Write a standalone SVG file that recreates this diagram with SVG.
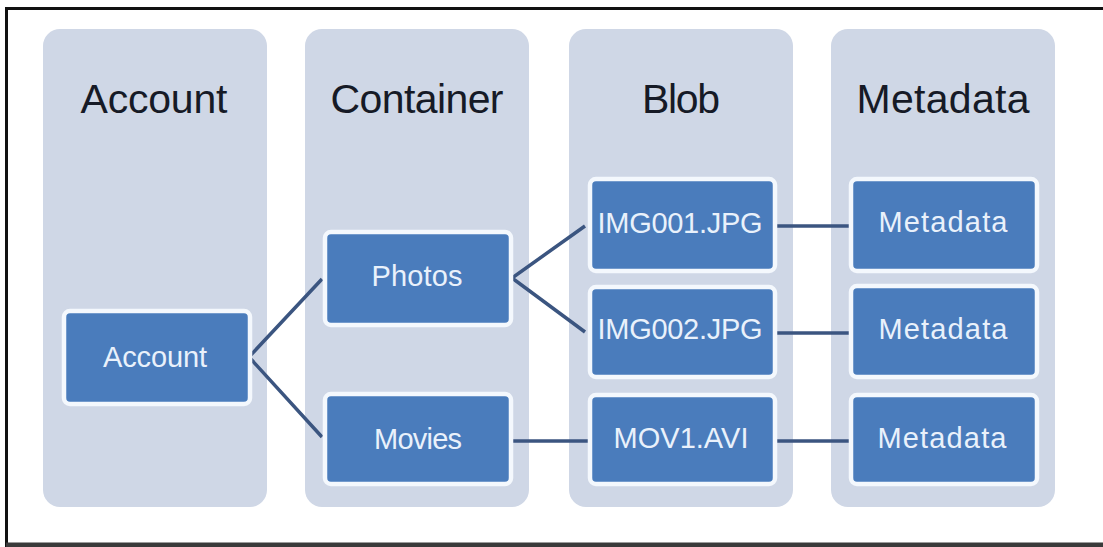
<svg xmlns="http://www.w3.org/2000/svg" width="1103" height="547" viewBox="0 0 1103 547">
  <style>
    .lane { fill: #cfd7e6; }
    .lane-title { font-family: "Liberation Sans", Arial, sans-serif; font-size: 41px; fill: #161a26; text-anchor: middle; }
    .node rect { fill: #4a7cbc; stroke: #f4f8fd; stroke-width: 4.5; }
    .node text { font-family: "Liberation Sans", Arial, sans-serif; font-size: 29px; fill: #e9f1fb; text-anchor: middle; }
    .edges path { fill: none; stroke: #3b5580; stroke-width: 3.5; stroke-linejoin: miter; }
  </style>

  <!-- page background and frame -->
  <rect x="0" y="0" width="1103" height="547" fill="#ffffff"/>
  <path d="M6.5 547 V8.5 H1103" fill="none" stroke="#111111" stroke-width="3"/>
  <rect x="6" y="542.5" width="1097" height="4.5" fill="#3a3a3a"/>

  <!-- swim lanes -->
  <g id="lane-account">
    <rect class="lane" x="43" y="29" width="224" height="478" rx="17"/>
    <text class="lane-title" x="154" y="113" textLength="147">Account</text>
  </g>
  <g id="lane-container">
    <rect class="lane" x="305" y="29" width="224" height="478" rx="17"/>
    <text class="lane-title" x="417" y="113" textLength="173">Container</text>
  </g>
  <g id="lane-blob">
    <rect class="lane" x="569" y="29" width="224" height="478" rx="17"/>
    <text class="lane-title" x="681" y="113" textLength="78">Blob</text>
  </g>
  <g id="lane-metadata">
    <rect class="lane" x="831" y="29" width="224" height="478" rx="17"/>
    <text class="lane-title" x="943" y="113" textLength="173">Metadata</text>
  </g>

  <!-- connectors -->
  <g class="edges" id="edges">
    <path d="M322 279 L249 357 L322 437"/>
    <path d="M585 226 L512 278 L585 332"/>
    <path d="M510 441 H588"/>
    <path d="M775 226 H849"/>
    <path d="M775 333 H849"/>
    <path d="M775 441 H849"/>
  </g>

  <!-- nodes -->
  <g class="node" id="node-account">
    <rect x="64" y="311" width="186" height="93" rx="6"/>
    <text x="155" y="367" textLength="104">Account</text>
  </g>
  <g class="node" id="node-photos">
    <rect x="325" y="232" width="186" height="93" rx="6"/>
    <text x="417" y="286" textLength="91">Photos</text>
  </g>
  <g class="node" id="node-movies">
    <rect x="325" y="394" width="186" height="90" rx="6"/>
    <text x="418" y="449" textLength="88">Movies</text>
  </g>
  <g class="node" id="node-img001">
    <rect x="590" y="179" width="185" height="92" rx="6"/>
    <text x="680" y="233" textLength="165">IMG001.JPG</text>
  </g>
  <g class="node" id="node-img002">
    <rect x="590" y="287" width="185" height="90" rx="6"/>
    <text x="680" y="339" textLength="165">IMG002.JPG</text>
  </g>
  <g class="node" id="node-mov1">
    <rect x="590" y="395" width="185" height="89" rx="6"/>
    <text x="681" y="448" textLength="135">MOV1.AVI</text>
  </g>
  <g class="node" id="node-meta1">
    <rect x="851" y="179" width="186" height="92" rx="6"/>
    <text x="943" y="232" textLength="129">Metadata</text>
  </g>
  <g class="node" id="node-meta2">
    <rect x="851" y="286" width="186" height="91" rx="6"/>
    <text x="943" y="339" textLength="129">Metadata</text>
  </g>
  <g class="node" id="node-meta3">
    <rect x="851" y="395" width="186" height="89" rx="6"/>
    <text x="942" y="448" textLength="129">Metadata</text>
  </g>
</svg>
